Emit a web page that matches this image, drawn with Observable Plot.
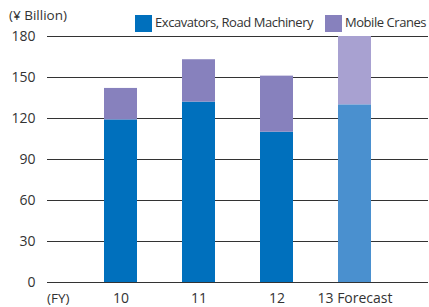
<!DOCTYPE html>
<html><head><meta charset="utf-8">
<script src="https://cdn.jsdelivr.net/npm/d3@7"></script>
<script src="https://cdn.jsdelivr.net/npm/@observablehq/plot@0.6"></script>
<style>
body{margin:0;background:#fff;font-family:"Open Sans",sans-serif;}
#wrap{position:relative;width:429px;height:307px;}
.lbl{position:absolute;font-size:13.5px;color:#333;white-space:nowrap;line-height:1;}
.leg{font-size:13px;letter-spacing:-0.45px;}
.sw{position:absolute;width:17px;height:17px;}
</style></head>
<body><div id="wrap">
<div class="lbl" id="unit" style="left:9px;top:9px;">(¥ Billion)</div>
<div class="sw" style="left:135px;top:15px;background:#0070BD;"></div>
<div class="lbl leg" style="left:155px;top:16px;">Excavators, Road Machinery</div>
<div class="sw" style="left:325px;top:15px;background:#8781BD;"></div>
<div class="lbl leg" style="left:345px;top:16px;">Mobile Cranes</div>
<div class="lbl" style="left:47px;top:292px;">(FY)</div>
</div>
<script>
const years = ["10", "11", "12", "13 Forecast"];
const forecast = [false, false, false, true];
const excavators = [119, 132, 110, 130];
const cranes = [23, 31, 41, 50];
const yTicks = [0, 30, 60, 90, 120, 150, 180];

const rows = [];
years.forEach((y, i) => rows.push({year: y, series: "Excavators, Road Machinery", value: excavators[i], forecast: forecast[i]}));
years.forEach((y, i) => rows.push({year: y, series: "Mobile Cranes", value: cranes[i], forecast: forecast[i]}));

const colors = {
  "Excavators, Road Machinery": ["#0070BD", "#4A90CF"],
  "Mobile Cranes": ["#8781BD", "#A8A1D1"]
};

const chart = Plot.plot({
  width: 429, height: 307,
  marginTop: 36, marginBottom: 25, marginLeft: 47, marginRight: 1,
  style: {fontFamily: '"Open Sans", sans-serif', fontSize: "14px", color: "#333", background: "transparent"},
  x: {domain: years, paddingInner: 0.582, paddingOuter: 0.7025, label: null, tickSize: 0, tickPadding: 11},
  y: {domain: [0, 180], ticks: yTicks, label: null, tickSize: 0, tickPadding: 12},
  marks: [
    Plot.ruleY(yTicks, {stroke: "#333", strokeWidth: 1.2}),
    Plot.barY(rows, {x: "year", y: "value", fill: d => colors[d.series][d.forecast ? 1 : 0]}),
  ]
});
chart.style.position = "absolute";
chart.style.left = "0"; chart.style.top = "0";
document.getElementById("wrap").prepend(chart);
</script>
</body></html>
